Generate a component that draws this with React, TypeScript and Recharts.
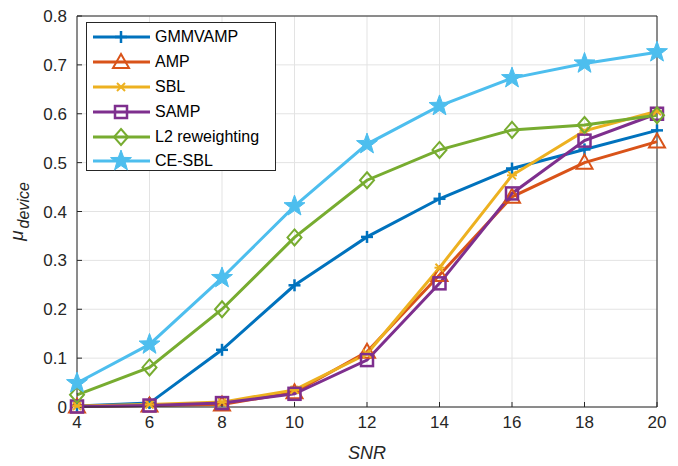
import React from "react";
import { LineChart, Line, XAxis, YAxis, CartesianGrid, ReferenceLine } from "recharts";

// SNR values on the x axis
const snr = [4, 6, 8, 10, 12, 14, 16, 18, 20];

const gmmvamp = [0.002, 0.008, 0.117, 0.249, 0.348, 0.426, 0.488, 0.527, 0.566];
const amp = [0.001, 0.003, 0.005, 0.03, 0.113, 0.27, 0.43, 0.5, 0.543];
const sbl = [0.002, 0.005, 0.01, 0.035, 0.109, 0.285, 0.474, 0.565, 0.605];
const samp = [0.001, 0.003, 0.008, 0.027, 0.096, 0.253, 0.437, 0.545, 0.6];
const l2 = [0.025, 0.081, 0.2, 0.347, 0.464, 0.526, 0.567, 0.577, 0.597];
const cesbl = [0.049, 0.128, 0.264, 0.411, 0.538, 0.616, 0.673, 0.703, 0.726];

const xTicks = [4, 6, 8, 10, 12, 14, 16, 18, 20];
const yTicks = [0, 0.1, 0.2, 0.3, 0.4, 0.5, 0.6, 0.7, 0.8];

type Marker = "plus" | "triangle" | "asterisk" | "square" | "diamond" | "star";

const series: { key: string; label: string; color: string; marker: Marker; values: number[] }[] = [
  { key: "gmmvamp", label: "GMMVAMP", color: "#0072BD", marker: "plus", values: gmmvamp },
  { key: "amp", label: "AMP", color: "#D95319", marker: "triangle", values: amp },
  { key: "sbl", label: "SBL", color: "#EDB120", marker: "asterisk", values: sbl },
  { key: "samp", label: "SAMP", color: "#7E2F8E", marker: "square", values: samp },
  { key: "l2", label: "L2 reweighting", color: "#77AC30", marker: "diamond", values: l2 },
  { key: "cesbl", label: "CE-SBL", color: "#4DBEEE", marker: "star", values: cesbl },
];

const data = snr.map((x, i) => {
  const row: Record<string, number> = { snr: x };
  series.forEach((s) => (row[s.key] = s.values[i]));
  return row;
});

const FONT = "'Liberation Sans', Arial, Helvetica, sans-serif";

function MarkerShape({ kind, cx, cy, color }: { kind: Marker; cx: number; cy: number; color: string }) {
  switch (kind) {
    case "plus":
      return (
        <g stroke={color} strokeWidth={2.5}>
          <line x1={cx - 6} y1={cy} x2={cx + 6} y2={cy} />
          <line x1={cx} y1={cy - 6} x2={cx} y2={cy + 6} />
        </g>
      );
    case "triangle":
      return (
        <polygon
          points={`${cx},${cy - 8} ${cx + 8},${cy + 6} ${cx - 8},${cy + 6}`}
          fill="none"
          stroke={color}
          strokeWidth={2}
        />
      );
    case "asterisk":
      return (
        <g stroke={color} strokeWidth={2}>
          <line x1={cx - 5} y1={cy} x2={cx + 5} y2={cy} />
          <line x1={cx - 4} y1={cy - 4} x2={cx + 4} y2={cy + 4} />
          <line x1={cx - 4} y1={cy + 4} x2={cx + 4} y2={cy - 4} />
        </g>
      );
    case "square":
      return <rect x={cx - 6} y={cy - 6} width={12} height={12} fill="none" stroke={color} strokeWidth={2.5} />;
    case "diamond":
      return (
        <polygon
          points={`${cx},${cy - 8} ${cx + 7},${cy} ${cx},${cy + 8} ${cx - 7},${cy}`}
          fill="none"
          stroke={color}
          strokeWidth={2}
        />
      );
    case "star": {
      const pts: string[] = [];
      for (let k = 0; k < 10; k++) {
        const r = k % 2 === 0 ? 11 : 4.5;
        const a = -Math.PI / 2 + (k * Math.PI) / 5;
        pts.push(`${cx + r * Math.cos(a)},${cy + r * Math.sin(a)}`);
      }
      return <polygon points={pts.join(" ")} fill={color} stroke={color} strokeWidth={1} />;
    }
  }
  return null;
}

function LegendBox() {
  return (
    <div
      style={{
        position: "absolute",
        left: 86,
        top: 22,
        border: "1px solid #262626",
        background: "#fff",
        width: 190,
        height: 149,
        boxSizing: "border-box",
        paddingTop: 2,
        fontFamily: FONT,
        fontSize: 16,
        color: "#000",
      }}
    >
      {series.map((s) => (
        <div key={s.key} style={{ display: "flex", alignItems: "center", height: 24.8 }}>
          <svg width={66} height={24} style={{ flex: "none" }}>
            <line x1={6} y1={12} x2={63} y2={12} stroke={s.color} strokeWidth={3} />
            <MarkerShape kind={s.marker} cx={34} cy={12} color={s.color} />
          </svg>
          <span style={{ marginLeft: 2 }}>{s.label}</span>
        </div>
      ))}
    </div>
  );
}

function YLabel(props: any) {
  const vb = props.viewBox || {};
  const x = 23;
  const y = (vb.y ?? 16) + (vb.height ?? 391) / 2;
  return (
    <text transform={`translate(${x},${y}) rotate(-90)`} textAnchor="middle" fontFamily={FONT} fill="#262626">
      <tspan fontSize={19} fontStyle="italic">μ</tspan>
      <tspan fontSize={16} fontStyle="italic" dy={6} dx={2}>device</tspan>
    </text>
  );
}

export default function App() {
  return (
    <div style={{ position: "absolute", left: 0, top: 0, width: 678, height: 466, background: "#fff" }}>
      <LineChart width={678} height={466} data={data} margin={{ top: 16, right: 21, bottom: 29, left: 0 }}>
        <CartesianGrid stroke="#e3e3e3" strokeWidth={1} />
        <XAxis
          dataKey="snr"
          type="number"
          domain={[4, 20]}
          ticks={xTicks}
          height={30}
          stroke="#262626"
          tickSize={-5}
          tickMargin={14}
          tick={{ fill: "#262626", fontSize: 17, fontFamily: FONT }}
          label={{
            value: "SNR",
            position: "insideBottom",
            offset: -22,
            fill: "#262626",
            fontSize: 18,
            fontStyle: "italic",
            fontFamily: FONT,
          }}
        />
        <YAxis
          type="number"
          domain={[0, 0.8]}
          ticks={yTicks}
          width={77}
          stroke="#262626"
          tickSize={-5}
          tickMargin={15}
          tickFormatter={(v: number) => (v === 0 ? "0" : String(v))}
          tick={{ fill: "#262626", fontSize: 17, fontFamily: FONT }}
          label={<YLabel />}
        />
        <ReferenceLine y={0.8} stroke="#262626" strokeWidth={1} />
        <ReferenceLine x={20} stroke="#262626" strokeWidth={1} />
        {series.map((s) => (
          <Line
            key={s.key}
            dataKey={s.key}
            name={s.label}
            stroke={s.color}
            strokeWidth={3}
            isAnimationActive={false}
            dot={(p: any) => <MarkerShape key={`${s.key}-${p.index}`} kind={s.marker} cx={p.cx} cy={p.cy} color={s.color} />}
            activeDot={false}
          />
        ))}
      </LineChart>
      <LegendBox />
    </div>
  );
}
